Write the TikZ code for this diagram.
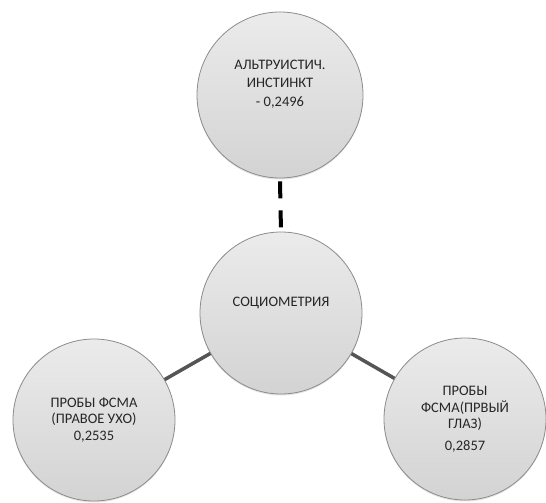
\documentclass[tikz,border=0pt]{standalone}
\usepackage{fontspec}
\setmainfont{Carlito}
\usetikzlibrary{shadows}
\definecolor{txt}{HTML}{262626}
\definecolor{rim}{HTML}{8C8C8C}
\definecolor{conn}{HTML}{555555}
\definecolor{fillA}{HTML}{EBEBEB}
\definecolor{fillB}{HTML}{D3D3D3}
\tikzset{
  bubble/.style={circle, draw=rim, line width=0.8pt, top color=fillA, bottom color=fillB,
    text=txt, align=center, inner sep=0pt,
    font=\fontsize{14.5}{16.5}\selectfont,
    drop shadow={shadow xshift=0pt, shadow yshift=-1.5pt, opacity=0.2, fill=gray}},
  solidlink/.style={draw=conn, line width=3.5pt},
  dashlink/.style={draw=black, line width=4pt, dash pattern=on 17pt off 12pt}
}
\begin{document}
\begin{tikzpicture}[x=1pt,y=-1pt]
\useasboundingbox[fill=white] (0,0) rectangle (546,503);
\node[bubble, minimum size=166pt, font=\fontsize{14.5}{18}\selectfont] (top) at (280,95) {АЛЬТРУИСТИЧ.\\ИНСТИНКТ\\[1pt]- 0,2496\\[6pt]};
\node[bubble, minimum size=162pt] (mid) at (281,313) {СОЦИОМЕТРИЯ\\[6pt]};
\node[bubble, minimum size=162pt] (left) at (94,420) {ПРОБЫ ФСМА\\(ПРАВОЕ УХО)\\0,2535};
\node[bubble, minimum size=162pt] (right) at (465,419) {ПРОБЫ\\ФСМА(ПРВЫЙ\\ГЛАЗ)\\[5pt]0,2857};
\draw[dashlink] (top.south) ++(0,3) -- (mid.north);
\draw[solidlink] (mid) -- (left);
\draw[solidlink] (mid) -- (right);
\end{tikzpicture}
\end{document}
